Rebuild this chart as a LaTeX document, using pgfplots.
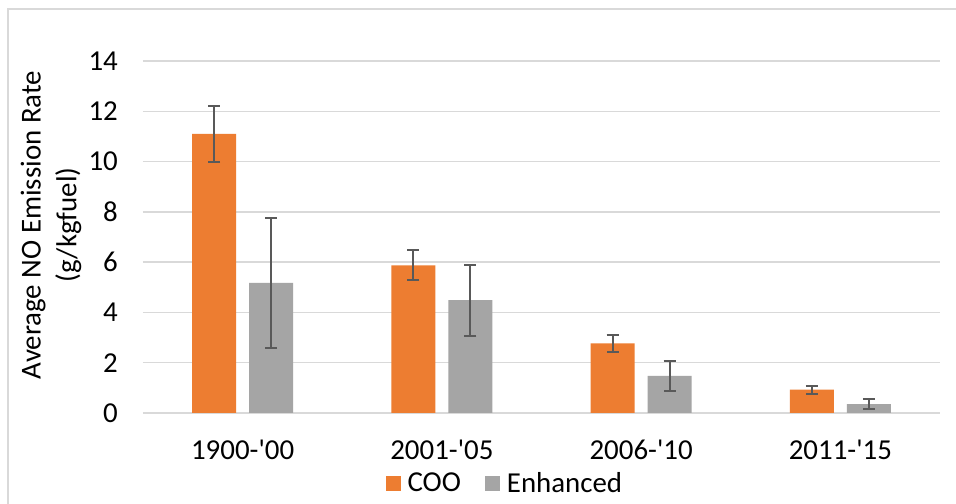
\documentclass[border=0pt]{standalone}
\usepackage{pgfplots}
\pgfplotsset{compat=1.18}
\usepackage{fontspec}
\setmainfont{Carlito}
\newfontfamily\plainq{Carlito}[Ligatures=TeXOff]
\definecolor{coo}{HTML}{ED7D31}
\definecolor{enh}{HTML}{A5A5A5}
\definecolor{gridc}{HTML}{D9D9D9}
\definecolor{errc}{HTML}{595959}
\begin{document}
\begin{tikzpicture}[x=1bp,y=1bp]
\useasboundingbox (-143,-91) rectangle (813,413);
\fill[white] (-143,-91) rectangle (813,413);
\draw[gridc, line width=1.5bp] (-135,-120) rectangle (840,404);
\begin{axis}[
    at={(0,0)}, anchor=south west,
    scale only axis, width=797bp, height=352bp,
    ybar=13bp, bar width=44bp,
    xmin=-0.5, xmax=3.5, ymin=0, ymax=14,
    xtick=data, xticklabels={1900-'00, 2001-'05, 2006-'10, 2011-'15},
    ytick={0,2,...,14},
    /pgf/number format/assume math mode=true,
    axis line style={draw=none}, major tick length=0pt,
    ymajorgrids, grid style={gridc, line width=1.5bp},
    font=\fontsize{29}{34}\selectfont,
    xticklabel style={anchor=center, yshift=-37bp, font=\fontsize{29}{34}\plainq},
    yticklabel style={anchor=east, inner sep=0pt, xshift=-25bp},
    ylabel={Average NO Emission Rate\\(g/kgfuel)},
    every axis y label/.style={at={(axis description cs:-0.1154,0.534)}, rotate=90, anchor=center, align=center, font=\fontsize{29}{36}\selectfont},
    legend columns=2,
    legend style={at={(axis description cs:0.454,-0.199)}, anchor=center, draw=none, fill=none,
        font=\fontsize{29}{34}\selectfont,
        /tikz/every odd column/.append style={column sep=5bp},
        /tikz/every even column/.append style={column sep=22bp}},
    legend image code/.code={\fill[#1] (0bp,-7.5bp) rectangle (15bp,7.5bp);},
    clip=false,
]
\addplot[fill=coo, draw=none,
    error bars/.cd, y dir=both, y explicit,
    error bar style={errc, line width=2bp},
    error mark options={errc, rotate=90, mark size=6bp, line width=2bp}]
    table[x=x, y=y, y error=e] {
x y e
0 11.10 1.10
1 5.87 0.60
2 2.77 0.33
3 0.93 0.16
};
\addlegendentry{COO}
\addplot[fill=enh, draw=none,
    error bars/.cd, y dir=both, y explicit,
    error bar style={errc, line width=2bp},
    error mark options={errc, rotate=90, mark size=6bp, line width=2bp}]
    table[x=x, y=y, y error=e] {
x y e
0 5.18 2.58
1 4.49 1.41
2 1.48 0.60
3 0.35 0.20
};
\addlegendentry{Enhanced}
\end{axis}
\end{tikzpicture}
\end{document}
